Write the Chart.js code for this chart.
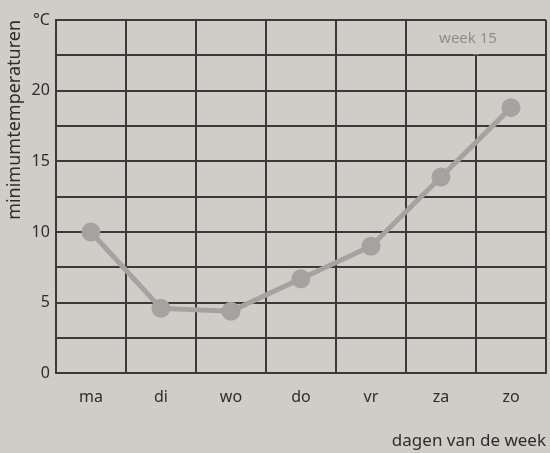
<!DOCTYPE html>
<html>
<head>
<meta charset="utf-8">
<script src="https://cdn.jsdelivr.net/npm/chart.js@4.4.0/dist/chart.umd.min.js"></script>
<style>
  html, body { margin: 0; padding: 0; background: #cfcdc8; }
  #wrap { width: 550px; height: 453px; }
</style>
</head>
<body>
<div id="wrap"><canvas id="chart" width="550" height="453"></canvas></div>
<script>
// Data
const days = ['ma', 'di', 'wo', 'do', 'vr', 'za', 'zo'];
const minTemps = [10, 4.6, 4.4, 6.7, 9.0, 13.9, 18.8];
const yMax = 25;
const weekLabel = 'week 15';

// Covers the grid line in the top row of the last two columns and writes the week label
const weekBox = {
    id: 'weekBox',
    afterDraw(chart) {
        const { ctx, scales: { x, y } } = chart;
        const xl = (x.getPixelForValue(5) + x.getPixelForValue(4)) / 2;
        const xr = chart.chartArea.right;
        const yt = y.getPixelForValue(25);
        const yb = y.getPixelForValue(22.5);
        const xm = (x.getPixelForValue(5) + x.getPixelForValue(6)) / 2;
        ctx.save();
        ctx.fillStyle = '#cfcdc8';
        ctx.fillRect(xm - 3, yt + 1, 6, yb - yt - 2);
        ctx.fillStyle = '#8f8d89';
        ctx.font = '15px "Noto Sans"';
        ctx.textAlign = 'center';
        ctx.textBaseline = 'middle';
        ctx.fillText(weekLabel, (xl + xr) / 2 - 8, (yt + yb) / 2 + 1);
        ctx.restore();
    }
};

new Chart(document.getElementById('chart'), {
    type: 'line',
    data: {
        labels: days,
        datasets: [{
            data: minTemps,
            borderColor: '#a5a3a0',
            backgroundColor: '#a5a3a0',
            borderWidth: 5,
            pointRadius: 7,
            pointHoverRadius: 7,
            tension: 0
        }]
    },
    options: {
        responsive: false,
        animation: false,
        layout: { autoPadding: false, padding: { left: 0, right: 4, top: 20, bottom: 0 } },
        plugins: { legend: { display: false }, tooltip: { enabled: false } },
        scales: {
            x: {
                offset: true,
                grid: { offset: true, color: '#3b3a38', lineWidth: 2, drawTicks: false },
                border: { color: '#3b3a38', width: 2 },
                ticks: { color: '#2e2d2b', font: { family: 'Noto Sans', size: 16 }, padding: 14 },
                title: {
                    display: true, text: 'dagen van de week', align: 'end',
                    color: '#2e2d2b', font: { family: 'Noto Sans', size: 17 }, padding: { top: 10, bottom: 2 }
                }
            },
            y: {
                min: 0, max: yMax,
                grid: { color: '#3b3a38', lineWidth: 2, drawTicks: false },
                border: { color: '#3b3a38', width: 2 },
                ticks: {
                    stepSize: 2.5,
                    autoSkip: false,
                    color: '#2e2d2b',
                    font: { family: 'Noto Sans', size: 16 },
                    padding: 6,
                    callback: v => v === yMax ? '°C' : (v % 5 === 0 ? v : '')
                },
                title: {
                    display: true, text: 'minimumtemperaturen', align: 'end',
                    color: '#2e2d2b', font: { family: 'Noto Sans', size: 18 }, padding: { bottom: 0 }
                }
            }
        }
    },
    plugins: [weekBox]
});
</script>
</body>
</html>
